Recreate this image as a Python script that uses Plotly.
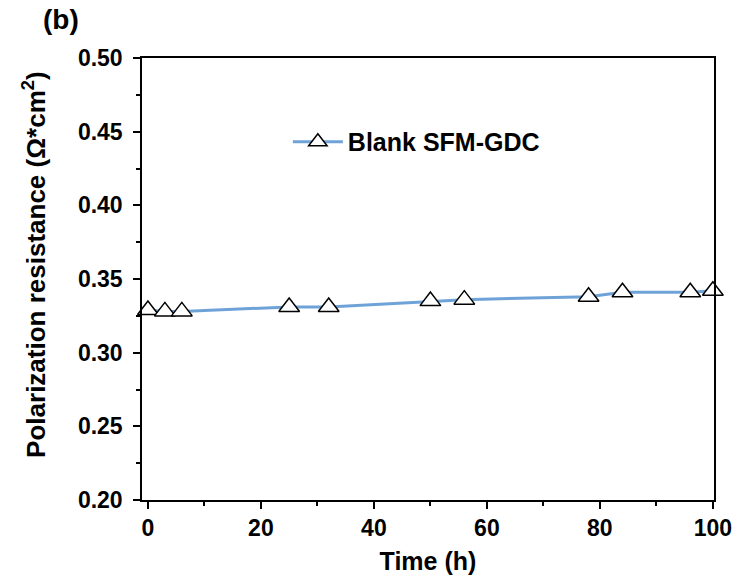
import plotly.graph_objects as go

# Polarization resistance of the blank SFM-GDC electrode over time
time_h = [0, 3, 6, 25, 32, 50, 56, 78, 84, 96, 100]
rp = [0.329, 0.328, 0.328, 0.331, 0.331, 0.335, 0.336, 0.338, 0.341, 0.341, 0.342]

x_ticks = [0, 20, 40, 60, 80, 100]
y_ticks = [0.20, 0.25, 0.30, 0.35, 0.40, 0.45, 0.50]

font_family = "Liberation Sans, Arial, sans-serif"

fig = go.Figure()
fig.add_trace(go.Scatter(
    x=time_h, y=rp, mode="lines+markers", name="Blank SFM-GDC",
    line=dict(color="#6fa3d8", width=3),
    marker=dict(symbol="triangle-up", size=18, color="white",
                line=dict(color="black", width=1.5)),
    cliponaxis=False,
))

axis_common = dict(
    showline=True, linecolor="black", linewidth=1.5, mirror=True,
    ticks="outside", tickcolor="black", tickwidth=1.5, ticklen=7,
    showgrid=False, zeroline=False,
    tickfont=dict(family=font_family, size=23, color="black", weight="bold"),
)

fig.update_xaxes(
    range=[-1.05, 100.2], tickvals=x_ticks,
    minor=dict(dtick=10, tick0=0, ticks="outside", ticklen=4, tickcolor="black", tickwidth=1.5),
    title=dict(text="Time (h)", standoff=12,
               font=dict(family=font_family, size=25, color="black", weight="bold")),
    **axis_common,
)
fig.update_yaxes(
    range=[0.20, 0.50], tickvals=y_ticks, tickformat=".2f",
    ticklabelstandoff=6,
    minor=dict(dtick=0.025, tick0=0.2, ticks="outside", ticklen=4, tickcolor="black", tickwidth=1.5),
    **axis_common,
)

fig.update_layout(
    width=748, height=583,
    margin=dict(l=142, r=34, t=58, b=83),
    paper_bgcolor="white", plot_bgcolor="white",
    showlegend=True,
    legend=dict(x=0.255, y=0.81, xanchor="left", yanchor="middle",
                bgcolor="rgba(0,0,0,0)", itemwidth=50,
                font=dict(family=font_family, size=25, color="black", weight="bold")),
)

# Y-axis title
fig.add_annotation(text="<b>Polarization resistance (Ω*cm<sup>2</sup>)</b>",
                   xref="paper", yref="paper", x=-0.187, y=0.532,
                   xanchor="center", yanchor="middle", textangle=-90,
                   showarrow=False,
                   font=dict(family=font_family, size=26, color="black"))

# Panel label
fig.add_annotation(text="<b>(b)</b>", xref="paper", yref="paper",
                   x=-0.1416, y=1.086, xanchor="center", yanchor="middle",
                   showarrow=False,
                   font=dict(family=font_family, size=28, color="black"))

fig.write_html("out.html")
